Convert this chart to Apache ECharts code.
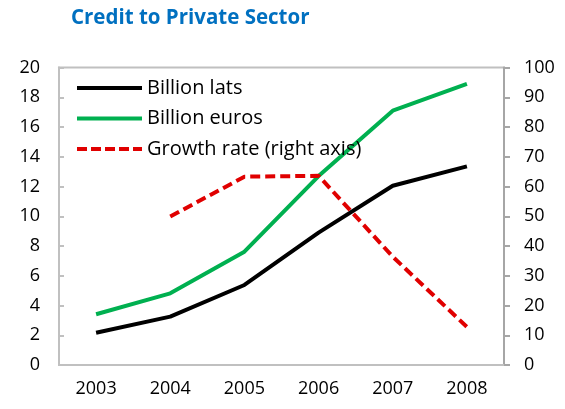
<!DOCTYPE html>
<html><head><meta charset="utf-8">
<script src="https://cdn.jsdelivr.net/npm/echarts@6/dist/echarts.min.js"></script>
<style>html,body{margin:0;padding:0;background:#fff}#c{width:565px;height:409px}</style>
</head><body><div id="c"></div>
<script>
const years = ['2003','2004','2005','2006','2007','2008'];
const billionLats = [2.17, 3.25, 5.38, 8.9, 12.05, 13.35];
const billionEuros = [3.41, 4.82, 7.62, 12.7, 17.1, 18.9];
const growthRate = [null, 49.9, 63.3, 63.6, 36.4, 12.8];
const leftTicks = {min: 0, max: 20, interval: 2};
const rightTicks = {min: 0, max: 100, interval: 10};

const chart = echarts.init(document.getElementById('c'));
const font = 'Open Sans';
const solidIcon = 'path://M0,0 L65,0 L65,4 L0,4 Z';
const dashIcon = 'path://M0,0 L10,0 L10,4 L0,4 Z M14,0 L24,0 L24,4 L14,4 Z M28,0 L38,0 L38,4 L28,4 Z M42,0 L52,0 L52,4 L42,4 Z M56,0 L65,0 L65,4 L56,4 Z';
chart.setOption({
  animation: false,
  title: {text: 'Credit to Private Sector', left: 66, top: 3,
    textStyle: {color: '#0070C0', fontSize: 20.5, fontWeight: 'bold', fontFamily: font}},
  grid: {left: 59, right: 61, top: 67.5, bottom: 44, show: true, borderColor: '#c0c0c0', borderWidth: 2},
  legend: {orient: 'vertical', left: 77, top: 78, padding: 0, itemWidth: 65, itemHeight: 4, itemGap: 10.5,
    textStyle: {fontSize: 20, fontFamily: font, color: '#000', lineHeight: 20},
    data: [
      {name: 'Billion lats', icon: solidIcon, itemStyle: {color: '#000'}},
      {name: 'Billion euros', icon: solidIcon, itemStyle: {color: '#00B050'}},
      {name: 'Growth rate (right axis)', icon: dashIcon, itemStyle: {color: '#E00000'}}
    ]},
  xAxis: {type: 'category', data: years, boundaryGap: true,
    axisLine: {lineStyle: {color: '#c0c0c0', width: 2}},
    axisTick: {inside: true, length: 5, lineStyle: {color: '#c0c0c0', width: 2}},
    axisLabel: {fontSize: 18, fontFamily: font, color: '#000', margin: 15}},
  yAxis: [
    {type: 'value', min: leftTicks.min, max: leftTicks.max, interval: leftTicks.interval,
     splitLine: {show: false},
     axisLine: {show: true, lineStyle: {color: '#c0c0c0', width: 2}},
     axisTick: {show: true, inside: true, length: 5, lineStyle: {color: '#c0c0c0', width: 2}},
     axisLabel: {fontSize: 18, fontFamily: font, color: '#000', margin: 19}},
    {type: 'value', min: rightTicks.min, max: rightTicks.max, interval: rightTicks.interval,
     position: 'right', splitLine: {show: false},
     axisLine: {show: true, lineStyle: {color: '#a6a6a6', width: 2}},
     axisTick: {show: true, inside: false, length: 6, lineStyle: {color: '#a6a6a6', width: 2}},
     axisLabel: {fontSize: 18, fontFamily: font, color: '#000', margin: 20}}
  ],
  series: [
    {name: 'Billion lats', type: 'line', data: billionLats, yAxisIndex: 0, symbol: 'none',
     lineStyle: {color: '#000', width: 4}, itemStyle: {color: '#000'}},
    {name: 'Billion euros', type: 'line', data: billionEuros, yAxisIndex: 0, symbol: 'none',
     lineStyle: {color: '#00B050', width: 4}, itemStyle: {color: '#00B050'}},
    {name: 'Growth rate (right axis)', type: 'line', data: growthRate, yAxisIndex: 1, symbol: 'none',
     lineStyle: {color: '#E00000', width: 4, type: [10, 5]}, itemStyle: {color: '#E00000'}}
  ]
});
</script></body></html>
